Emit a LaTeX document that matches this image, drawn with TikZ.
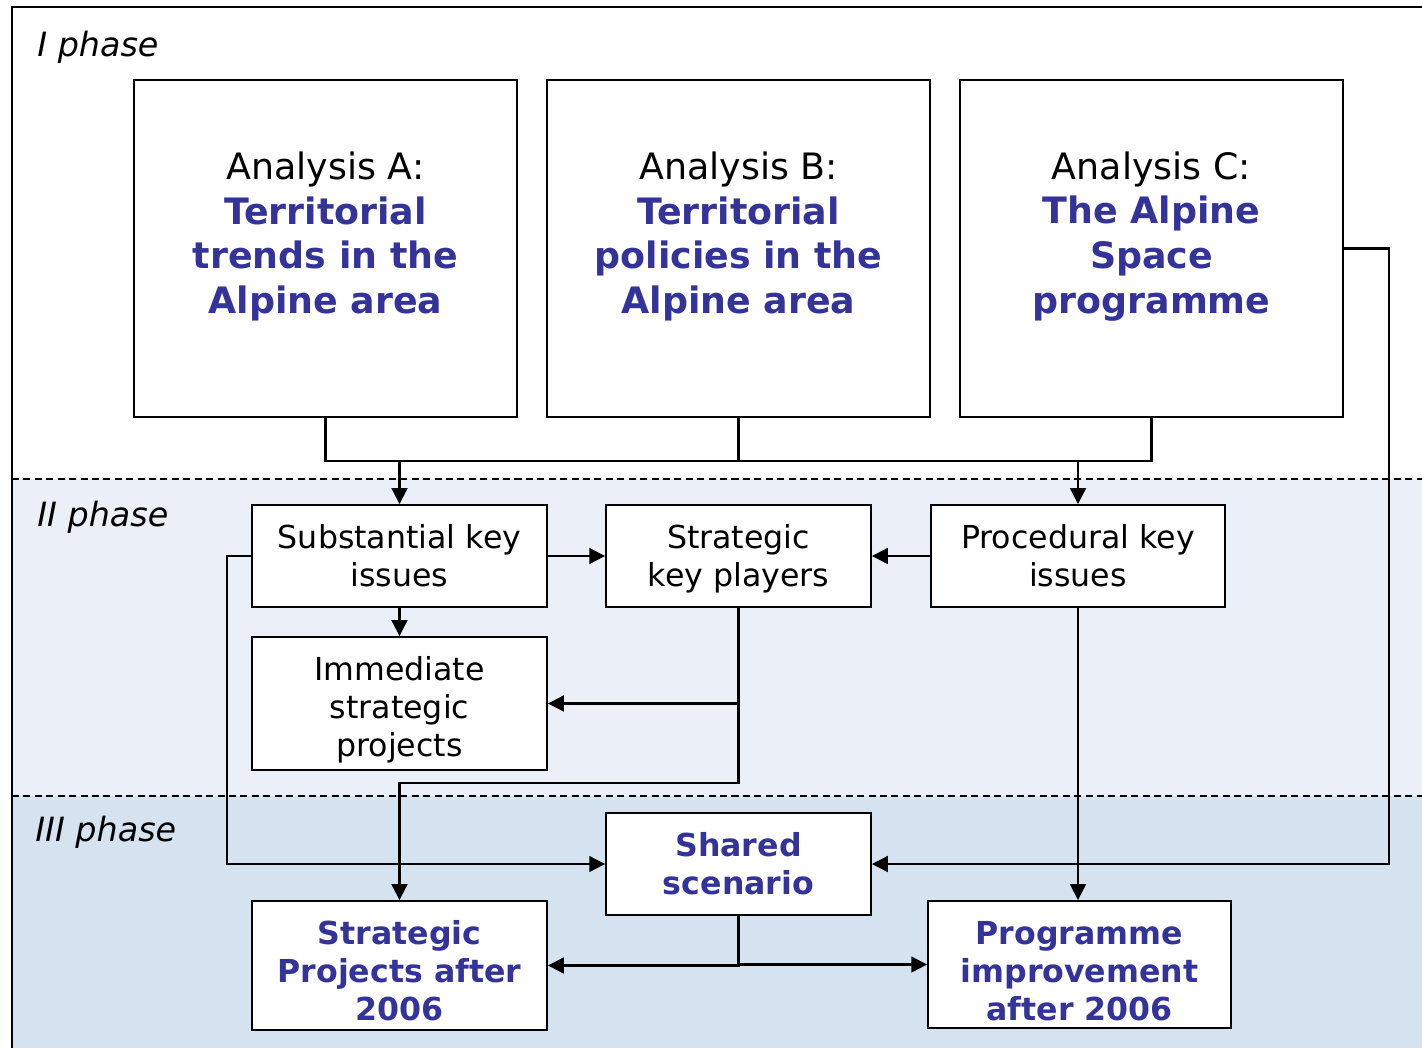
\documentclass[tikz,border=0pt]{standalone}
\usepackage{fontspec}
\setmainfont{DejaVu Sans}
\usetikzlibrary{arrows.meta}

\definecolor{phaseblue}{RGB}{51,51,153}
\definecolor{phasetwo}{RGB}{235,240,248}
\definecolor{phasethree}{RGB}{213,226,240}
\newcommand{\hilite}[1]{\textcolor{phaseblue}{\bfseries #1}}

\tikzset{
  bigbox/.style={draw,fill=white,line width=1.1pt,minimum width=7.66cm,minimum height=6.74cm},
  bigtext/.style={align=center,font=\fontsize{20.7}{25.5}\selectfont},
  keybox/.style={draw,fill=white,line width=1.1pt,align=center,inner sep=0pt,
    text depth=0pt,text height=35.1pt,font=\fontsize{18}{21.8}\selectfont},
  resultbox/.style={keybox,font=\fontsize{18}{21.8}\selectfont\bfseries,text=phaseblue},
  phaselabel/.style={anchor=west,inner sep=0pt,font=\fontsize{19}{22}\selectfont\itshape},
  conn/.style={line width=1.2pt},
  arr/.style={conn,-{Triangle[length=9pt,width=9pt]}}
}

\begin{document}
\begin{tikzpicture}[x=0.02cm,y=-0.02cm]
  \useasboundingbox (0,0) rectangle (1422,1048);
  \fill[white] (0,0) rectangle (1422,1048);
  \fill[phasetwo] (12,479) rectangle (1422,796);
  \fill[phasethree] (12,796) rectangle (1422,1048);
  \draw[line width=0.8pt,dash pattern=on 4pt off 2.5pt] (12,479) -- (1422,479);
  \draw[line width=0.8pt,dash pattern=on 4pt off 2.5pt] (12,796) -- (1422,796);
  \draw[line width=0.9pt] (12,1048) -- (12,7) -- (1422,7);

  \node[phaselabel] (p1) at (37,47) {I phase};
  \node[phaselabel] (p2) at (37,517) {II phase};
  \node[phaselabel] (p3) at (35,832) {III phase};

  % I phase
  \node[bigbox] (a) at (325.5,248.5) {};
  \node[bigbox] (b) at (738.5,248.5) {};
  \node[bigbox] (c) at (1151.5,248.5) {};
  \node[bigtext] (ta) at (325.5,236.5) {Analysis A:\\\hilite{Territorial}\\\hilite{trends in the}\\\hilite{Alpine area}};
  \node[bigtext] (tb) at (738.5,236.5) {Analysis B:\\\hilite{Territorial}\\\hilite{policies in the}\\\hilite{Alpine area}};
  \node[bigtext] (tc) at (1151.5,236.5) {Analysis C:\\\hilite{The Alpine}\\\hilite{Space}\\\hilite{programme}};

  % II phase
  \node[keybox,minimum width=5.9cm,minimum height=2.04cm] (subst) at (399.5,556) {Substantial key\\issues};
  \node[keybox,minimum width=5.3cm,minimum height=2.04cm] (players) at (738.5,556) {Strategic\\key players};
  \node[keybox,minimum width=5.88cm,minimum height=2.04cm] (proc) at (1078,556) {Procedural key\\issues};
  \node[keybox,minimum width=5.9cm,minimum height=2.66cm,text height=60.7pt] (imm) at (399.5,703.5) {Immediate\\strategic\\projects};

  % III phase
  \node[resultbox,minimum width=5.3cm,minimum height=2.04cm] (shared) at (738.5,864) {Shared\\scenario};
  \node[resultbox,minimum width=5.9cm,minimum height=2.58cm,text height=62.9pt] (sproj) at (399.5,965.5) {Strategic\\Projects after\\2006};
  \node[resultbox,minimum width=6.06cm,minimum height=2.54cm,text height=64pt] (prog) at (1079.5,964.5) {Programme\\improvement\\after 2006};

  \coordinate (merge) at (0,461);
  \coordinate (bend) at (738.5,783);

  \draw[conn] (a.south) -- (a.south |- merge) -- (c.south |- merge) -- (c.south);
  \draw[conn] (b.south) -- (b.south |- merge);
  \draw[arr] (subst.north |- merge) -- (subst.north);
  \draw[arr] (proc.north |- merge) -- (proc.north);
  \draw[arr] (subst.east) -- (players.west);
  \draw[arr] (proc.west) -- (players.east);
  \draw[arr] (subst.south) -- (imm.north);
  \draw[arr] (players.south) |- (imm.east);
  \draw[arr] (players.south) -- (bend) -| (sproj.north);
  \draw[arr] (subst.west) -- ++(-24,0) |- (shared.west);
  \draw[arr] (c.east) -- ++(45,0) |- (shared.east);
  \draw[arr] (proc.south) -- (proc.south |- prog.north);
  \draw[arr] (shared.south) |- (sproj.east);
  \draw[arr] (shared.south) |- (prog.west);
\end{tikzpicture}
\end{document}
